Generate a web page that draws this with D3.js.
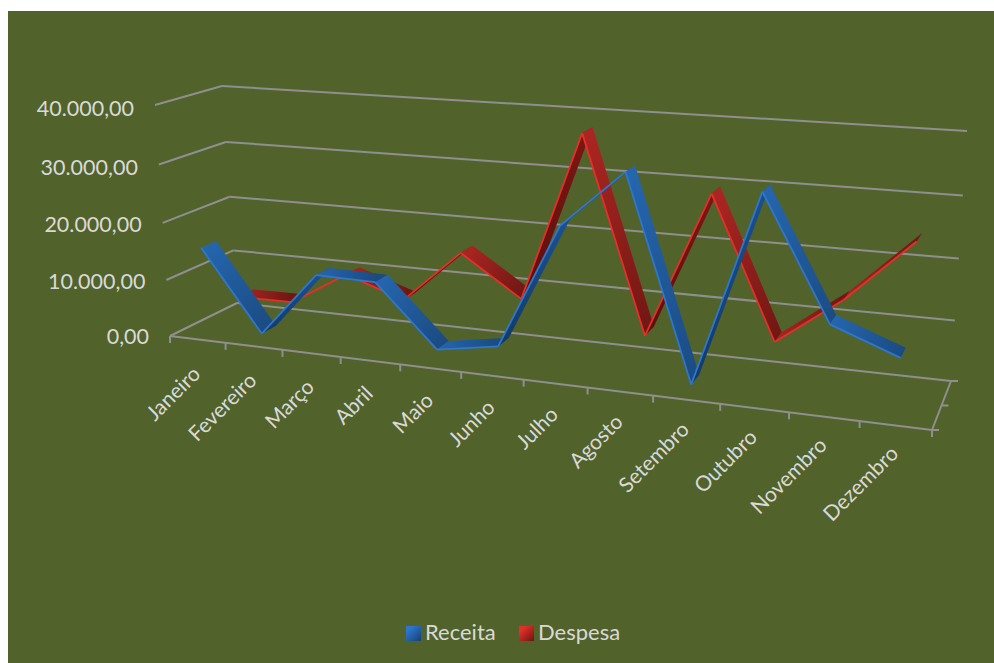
<!DOCTYPE html>
<html lang="pt">
<head>
  <meta charset="UTF-8">
  <title></title>
  <style>
    html, body {
      margin: 0;
      background: #fff;
      overflow: hidden;
      width: 100%;
      height: 100%;
    }
    svg {
      position: absolute;
      top: 0;
      left: 0;
    }
    text {
      font-family: Lato, "Open Sans", sans-serif;
      fill: #d9d9d9;
    }
  </style>
</head>
<body>
  <svg width="994" height="663"></svg>
</body>
<script src="https://d3js.org/d3.v7.min.js"></script>
<script type="text/javascript">
  const months = ['Janeiro', 'Fevereiro', 'Março', 'Abril', 'Maio', 'Junho', 'Julho', 'Agosto', 'Setembro', 'Outubro', 'Novembro', 'Dezembro']
  const receita = [15500, 1450, 12800, 12650, 2300, 4050, 24900, 34200, 1500, 32800, 13500, 9500]
  const despesa = [3950, 4050, 10100, 6650, 15900, 9000, 37500, 4900, 29300, 6200, 14200, 24400]
  const valueTicks = [0, 10000, 20000, 30000, 40000]
  const tickLabels = ['0,00', '10.000,00', '20.000,00', '30.000,00', '40.000,00']

  const svg = d3.select('svg')

  svg.append('rect')
    .attr('x', 8).attr('y', 11)
    .attr('width', 986).attr('height', 652)
    .attr('fill', '#51622a')

  // the box the chart sits in, as seen on the picture
  const box = {
    frontLeft: { base: [170, 336], top: [155, 105] },
    backLeft: { base: [237, 303], top: [222, 86] },
    frontRight: { base: [932, 430], top: [942, 160] },
    backRight: { base: [951, 381], top: [967, 131] }
  }

  const yScale = d3.scaleLinear().domain([0, 40000]).range([0, 1])
  const xScale = d3.scaleLinear().domain([-0.5, 11.5]).range([0, 1])

  // foreshortening along an axis
  function persp(u, k) {
    return k * u / (1 + (k - 1) * u)
  }

  function lerp(a, b, t) {
    return [a[0] + (b[0] - a[0]) * t, a[1] + (b[1] - a[1]) * t]
  }

  function project(i, value, w) {
    const u = persp(xScale(i), 0.866)
    const v = persp(yScale(value), 0.96)
    const left = lerp(lerp(box.frontLeft.base, box.frontLeft.top, v), lerp(box.backLeft.base, box.backLeft.top, v), w)
    const right = lerp(lerp(box.frontRight.base, box.frontRight.top, v), lerp(box.backRight.base, box.backRight.top, v), w)
    return lerp(left, right, u)
  }

  const gridColor = '#8f8f8f'
  const first = -0.5
  const last = 11.5

  function segment(g, a, b) {
    g.append('line')
      .attr('x1', a[0]).attr('y1', a[1])
      .attr('x2', b[0]).attr('y2', b[1])
      .attr('stroke', gridColor)
      .attr('stroke-width', 2)
  }

  const grid = svg.append('g')

  valueTicks.forEach(t => {
    segment(grid, project(first, t, 0), project(first, t, 1))
    segment(grid, project(first, t, 1), project(last, t, 1))
  })

  segment(grid, project(first, 0, 0), project(last, 0, 0))
  segment(grid, project(last, 0, 0), project(last, 0, 1))

  // ticks under the front edge, one per category boundary
  d3.range(first, last + 1).forEach(i => {
    const p = project(i, 0, 0)
    segment(grid, p, [p[0], p[1] + 7])
  })

  // series depth ticks on the right side
  ;[0, 0.5, 1].forEach(w => {
    const p = project(last, 0, w)
    segment(grid, p, [p[0] + 7, p[1]])
  })

  // value labels
  svg.selectAll('.ylabel')
    .data(valueTicks)
    .enter()
    .append('text')
    .attr('class', 'ylabel')
    .attr('x', d => project(first, d, 0)[0] - 21)
    .attr('y', (d, i) => project(first, d, 0)[1] + 8 + i * 0.75)
    .attr('text-anchor', 'end')
    .attr('font-size', 21.5)
    .text((d, i) => tickLabels[i])

  // category labels
  svg.selectAll('.xlabel')
    .data(months)
    .enter()
    .append('text')
    .attr('class', 'xlabel')
    .attr('text-anchor', 'end')
    .attr('font-size', 21)
    .attr('transform', (d, i) => {
      const p = project(i, 0, 0)
      return 'translate(' + (p[0] + 4) + ',' + (p[1] + 36 - i * 0.6) + ') rotate(-45)'
    })
    .text(d => d)

  const defs = svg.append('defs')

  const blue = { edge: '#2d77cf', topA: '#2566ae', topB: '#1b4b82', underA: '#143a66', underB: '#1c4f8c' }
  const red = { edge: '#e5302a', topA: '#ab2622', topB: '#701713', underA: '#5c100e', underB: '#7a1714' }

  function ribbon(values, w0, w1, c, name) {
    const g = svg.append('g')
    const line = d3.line()

    d3.pairs(values.map((d, i) => i)).forEach(([a, b]) => {
      const f0 = project(a, values[a], w0)
      const f1 = project(b, values[b], w0)
      const b0 = project(a, values[a], w1)
      const b1 = project(b, values[b], w1)

      // which way the strip faces on screen
      const cross = (f1[0] - f0[0]) * (b0[1] - f0[1]) - (f1[1] - f0[1]) * (b0[0] - f0[0])
      const top = cross < 0

      const id = name + a
      const grad = defs.append('linearGradient')
        .attr('id', id)
        .attr('gradientUnits', 'userSpaceOnUse')
        .attr('x1', f0[0]).attr('y1', f0[1])
        .attr('x2', f1[0]).attr('y2', f1[1])
      grad.append('stop').attr('offset', '0%').attr('stop-color', top ? c.topA : c.underA)
      grad.append('stop').attr('offset', '100%').attr('stop-color', top ? c.topB : c.underB)

      g.append('path')
        .attr('d', line([f0, f1, b1, b0]) + 'Z')
        .attr('fill', 'url(#' + id + ')')

      g.append('path')
        .attr('d', line([f0, f1]))
        .attr('stroke', c.edge)
        .attr('stroke-width', 1.8)
        .attr('fill', 'none')
    })
  }

  ribbon(despesa, 0.635, 0.865, red, 'despesa')
  ribbon(receita, 0.135, 0.365, blue, 'receita')

  // legend
  const legendItems = [
    { name: 'Receita', x: 406, textX: 425, a: '#2d77cf', b: '#17406f' },
    { name: 'Despesa', x: 519, textX: 538, a: '#e5302a', b: '#6b1411' }
  ]

  legendItems.forEach((d, i) => {
    const grad = defs.append('linearGradient')
      .attr('id', 'swatch' + i)
      .attr('x1', '0%').attr('y1', '0%')
      .attr('x2', '100%').attr('y2', '100%')
    grad.append('stop').attr('offset', '20%').attr('stop-color', d.a)
    grad.append('stop').attr('offset', '100%').attr('stop-color', d.b)

    svg.append('rect')
      .attr('x', d.x).attr('y', 626)
      .attr('width', 15).attr('height', 15)
      .attr('fill', 'url(#swatch' + i + ')')

    svg.append('text')
      .attr('x', d.textX).attr('y', 640)
      .attr('font-size', 22)
      .text(d.name)
  })
</script>
</html>
